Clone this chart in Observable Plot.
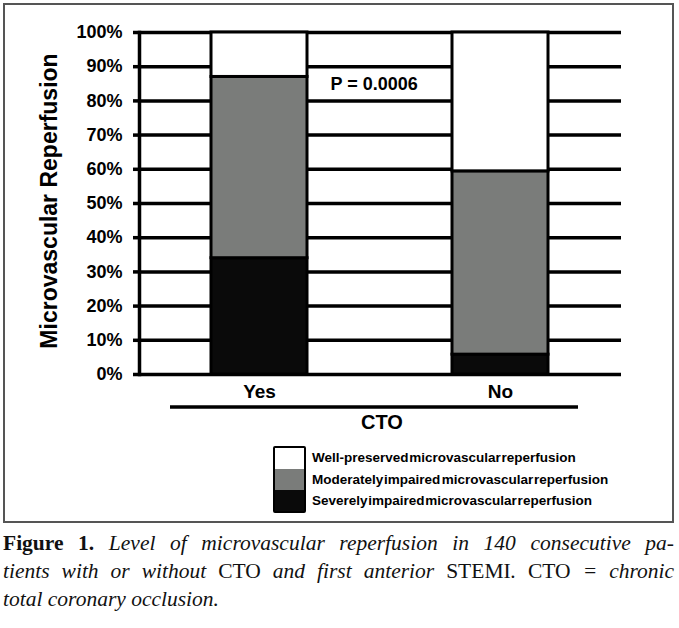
<!DOCTYPE html>
<html>
<head>
<meta charset="utf-8">
<script src="https://cdn.jsdelivr.net/npm/d3@7"></script>
<script src="https://cdn.jsdelivr.net/npm/@observablehq/plot@0.6"></script>
<style>
  html, body { margin: 0; padding: 0; background: #fff; }
  body { position: relative; width: 679px; height: 628px; overflow: hidden; }
  #frame { position: absolute; left: 3px; top: 3px; width: 671px; height: 520px; box-sizing: border-box; border: 2px solid #555; }
  #chart { position: absolute; left: 0; top: 0; }
  #legend { position: absolute; left: 273px; top: 446px; font-family: "Liberation Sans", Arial, sans-serif; font-weight: bold; font-size: 13.5px; color: #000; }
  #legend .box { position: absolute; left: 0; top: 0; width: 33px; height: 67px; box-sizing: border-box; border: 2px solid #000; border-radius: 2px; overflow: hidden; }
  #legend .lab { position: absolute; left: 39px; white-space: pre; word-spacing: -3px; line-height: 15px; }
  #caption { position: absolute; left: 3px; top: 529px; width: 671px; font-family: "Liberation Serif", "Times New Roman", serif; font-size: 21.5px; line-height: 28px; color: #111; }
  #caption .ln { text-align: justify; text-align-last: justify; white-space: nowrap; }
  #caption .ln.last { text-align-last: left; }
  #caption b { font-style: normal; }
  #caption i { font-style: italic; }
</style>
</head>
<body>
<div id="frame"></div>
<div id="chart"></div>
<div id="legend"></div>
<div id="caption">
  <div class="ln"><b>Figure 1.</b> <i>Level of microvascular reperfusion in 140 consecutive pa-</i></div>
  <div class="ln"><i>tients with or without </i>CTO<i> and first anterior </i>STEMI<i>. </i>CTO<i> = chronic</i></div>
  <div class="ln last"><i>total coronary occlusion.</i></div>
</div>
<script>
const categories = ["Yes", "No"];
const levels = [
  "Severely impaired microvascular reperfusion",
  "Moderately impaired  microvascular reperfusion",
  "Well-preserved microvascular reperfusion"
];
const severe = [34, 5.8];
const moderate = [53, 53.6];
const well = [13, 40.6];
const yTicks = [0, 10, 20, 30, 40, 50, 60, 70, 80, 90, 100];
const pLabel = "P = 0.0006";
const axisTitle = "Microvascular Reperfusion";
const groupTitle = "CTO";
const levelColors = ["#0a0a0a", "#7a7c7a", "#ffffff"];

const rows = [];
categories.forEach((c, i) => {
  rows.push({cto: c, level: levels[0], value: severe[i]});
  rows.push({cto: c, level: levels[1], value: moderate[i]});
  rows.push({cto: c, level: levels[2], value: well[i]});
});

const plot = Plot.plot({
  width: 679,
  height: 440,
  marginLeft: 139,
  marginRight: 58,
  marginTop: 32,
  marginBottom: 66,
  style: {fontFamily: "Liberation Sans, Arial, sans-serif", fontWeight: "bold", color: "#000", background: "transparent"},
  x: {domain: categories, paddingInner: 0.6, paddingOuter: 0.3, axis: null},
  y: {domain: [0, 100], axis: null},
  color: {domain: levels, range: levelColors},
  marks: [
    Plot.ruleY(yTicks, {stroke: "#000", strokeWidth: 3.5}),
    Plot.axisY({ticks: yTicks, tickFormat: d => d + "%", tickSize: 6, tickPadding: 11, strokeWidth: 3.5, fontSize: 18, label: null}),
    Plot.frame({anchor: "left", stroke: "#000", strokeWidth: 3.5}),
    Plot.barY(rows, {x: "cto", y: "value", fill: "level", stroke: "#000", strokeWidth: 3, order: levels}),
    Plot.axisX({tickSize: 0, tickPadding: 10, fontSize: 19, label: null}),
    Plot.text([pLabel], {x: ["Yes"], y: [85], text: d => d, dx: 71, textAnchor: "start", fontSize: 18, fontWeight: "bold"})
  ]
});
document.getElementById("chart").appendChild(plot);

const svg = d3.select(plot);
svg.append("text")
  .attr("transform", "translate(51,201) rotate(-90)")
  .attr("text-anchor", "middle")
  .attr("dominant-baseline", "middle")
  .attr("font-size", 23)
  .attr("font-weight", "bold")
  .attr("fill", "#000")
  .text(axisTitle);
svg.append("line")
  .attr("x1", 170).attr("x2", 578).attr("y1", 407).attr("y2", 407)
  .attr("stroke", "#000").attr("stroke-width", 3.5);
svg.append("text")
  .attr("x", 382).attr("y", 424)
  .attr("text-anchor", "middle")
  .attr("dominant-baseline", "middle")
  .attr("font-size", 20)
  .attr("font-weight", "bold")
  .attr("fill", "#000")
  .text(groupTitle);

// legend (top to bottom: well, moderate, severe)
const legend = d3.select("#legend");
const box = legend.append("div").attr("class", "box");
const order = [2, 1, 0];
order.forEach(k => {
  box.append("div").style("background", levelColors[k]).style("height", k === 0 ? "23px" : "21px");
});
const labTops = [4, 26, 47];
order.forEach((k, j) => {
  legend.append("div").attr("class", "lab").style("top", labTops[j] + "px").text(levels[k]);
});
</script>
</body>
</html>
